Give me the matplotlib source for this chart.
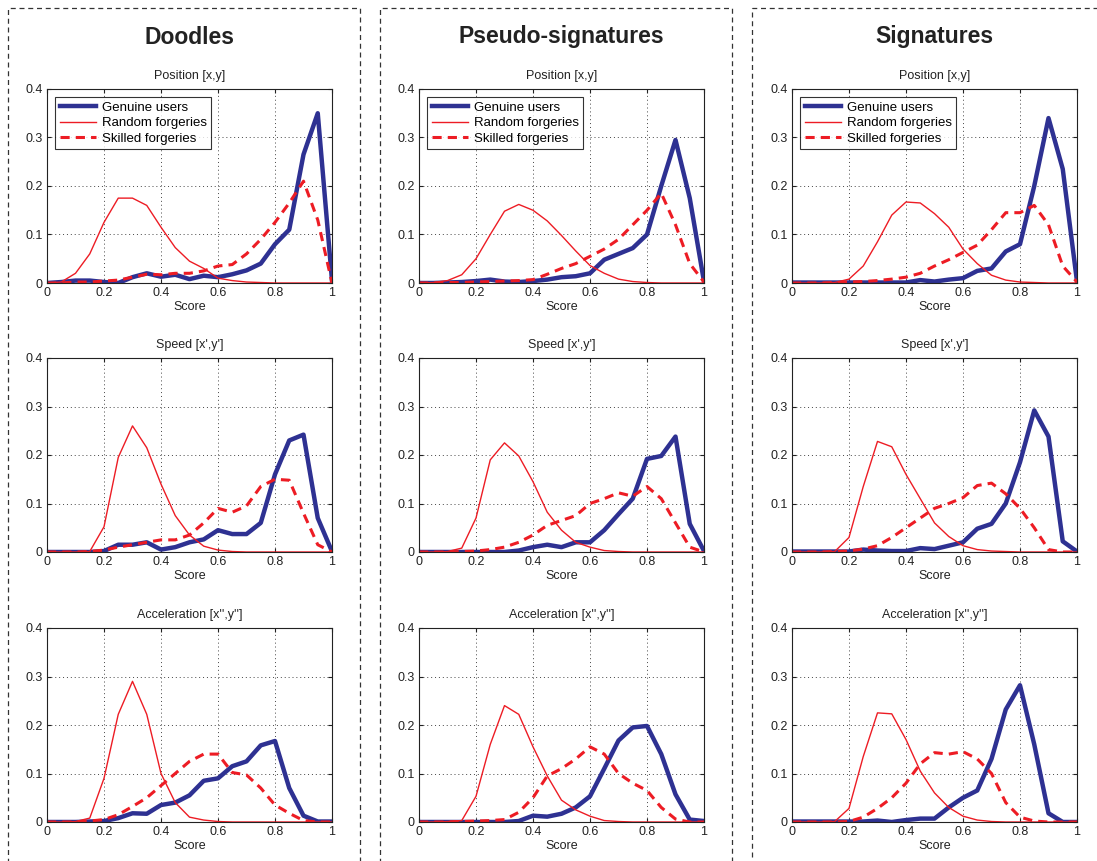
import matplotlib.pyplot as plt
from matplotlib.patches import Rectangle
import numpy as np

score = np.linspace(0, 1, 21)

columns = ["Doodles", "Pseudo-signatures", "Signatures"]
features = ["Position [x,y]", "Speed [x',y']", "Acceleration [x'',y'']"]
labels = ["Genuine users", "Random forgeries", "Skilled forgeries"]

# doodles
doodles_pos_gen = [0, 0.002, 0.005, 0.005, 0.002, 0.0, 0.012, 0.02, 0.013, 0.017, 0.008,
                   0.015, 0.012, 0.018, 0.026, 0.04, 0.08, 0.11, 0.265, 0.35, 0.005]
doodles_pos_rnd = [0, 0.002, 0.02, 0.06, 0.125, 0.175, 0.175, 0.16, 0.115, 0.073, 0.045,
                   0.03, 0.01, 0.005, 0.002, 0.001, 0, 0, 0, 0, 0]
doodles_pos_skl = [0, 0, 0.002, 0.002, 0.004, 0.006, 0.012, 0.018, 0.017, 0.02, 0.02,
                   0.025, 0.035, 0.038, 0.06, 0.09, 0.125, 0.165, 0.21, 0.13, 0.0]
doodles_spd_gen = [0, 0, 0, 0, 0.002, 0.015, 0.015, 0.02, 0.005, 0.01, 0.02,
                   0.026, 0.045, 0.037, 0.037, 0.06, 0.16, 0.23, 0.242, 0.07, 0.001]
doodles_spd_rnd = [0, 0, 0, 0.001, 0.052, 0.195, 0.26, 0.215, 0.14, 0.075, 0.035,
                   0.012, 0.004, 0.001, 0, 0, 0, 0, 0, 0, 0]
doodles_spd_skl = [0, 0, 0, 0.001, 0.004, 0.01, 0.015, 0.02, 0.025, 0.025, 0.035,
                   0.06, 0.09, 0.082, 0.095, 0.135, 0.15, 0.148, 0.08, 0.015, 0]
doodles_acc_gen = [0, 0, 0, 0.001, 0.002, 0.008, 0.018, 0.017, 0.035, 0.04, 0.055,
                   0.085, 0.09, 0.115, 0.125, 0.158, 0.167, 0.07, 0.013, 0.001, 0.001]
doodles_acc_rnd = [0, 0, 0.001, 0.008, 0.09, 0.222, 0.29, 0.222, 0.1, 0.04, 0.01,
                   0.004, 0.001, 0, 0, 0, 0, 0, 0, 0, 0]
doodles_acc_skl = [0, 0, 0, 0.002, 0.005, 0.015, 0.032, 0.05, 0.075, 0.1, 0.125,
                   0.14, 0.14, 0.102, 0.097, 0.07, 0.035, 0.018, 0.003, 0, 0]

# pseudo-signatures
pseudo_pos_gen = [0, 0, 0.001, 0.002, 0.004, 0.007, 0.003, 0.002, 0.004, 0.007, 0.012,
                  0.014, 0.02, 0.048, 0.06, 0.072, 0.1, 0.2, 0.295, 0.175, 0.003]
pseudo_pos_rnd = [0, 0.001, 0.005, 0.017, 0.05, 0.1, 0.148, 0.162, 0.15, 0.128, 0.098,
                  0.066, 0.036, 0.02, 0.008, 0.003, 0.001, 0, 0, 0, 0]
pseudo_pos_skl = [0, 0, 0.001, 0.001, 0.002, 0.003, 0.004, 0.005, 0.007, 0.018, 0.03,
                  0.04, 0.055, 0.07, 0.09, 0.12, 0.15, 0.185, 0.12, 0.04, 0.002]
pseudo_spd_gen = [0, 0, 0, 0, 0, 0, 0, 0.003, 0.01, 0.015, 0.01,
                  0.02, 0.02, 0.045, 0.078, 0.11, 0.192, 0.198, 0.238, 0.058, 0.002]
pseudo_spd_rnd = [0, 0, 0.001, 0.008, 0.07, 0.19, 0.225, 0.198, 0.145, 0.082, 0.045,
                  0.02, 0.01, 0.003, 0.001, 0, 0, 0, 0, 0, 0]
pseudo_spd_skl = [0, 0, 0, 0.001, 0.002, 0.005, 0.01, 0.02, 0.035, 0.055, 0.065,
                  0.075, 0.1, 0.11, 0.122, 0.115, 0.135, 0.11, 0.06, 0.01, 0]
pseudo_acc_gen = [0, 0, 0, 0, 0, 0, 0, 0.002, 0.013, 0.011, 0.017,
                  0.03, 0.053, 0.11, 0.168, 0.195, 0.198, 0.14, 0.057, 0.005, 0.002]
pseudo_acc_rnd = [0, 0, 0.001, 0.003, 0.053, 0.16, 0.24, 0.222, 0.155, 0.095, 0.045,
                  0.025, 0.012, 0.003, 0.001, 0, 0, 0, 0, 0, 0]
pseudo_acc_skl = [0, 0, 0, 0.001, 0.002, 0.003, 0.005, 0.02, 0.05, 0.095, 0.11,
                  0.13, 0.155, 0.14, 0.1, 0.08, 0.065, 0.03, 0.006, 0, 0]

# signatures
sig_pos_gen = [0.001, 0.001, 0.001, 0.001, 0.001, 0.001, 0.001, 0.001, 0.001, 0.006, 0.003,
               0.007, 0.01, 0.025, 0.03, 0.065, 0.08, 0.2, 0.34, 0.235, 0.003]
sig_pos_rnd = [0, 0, 0, 0.001, 0.008, 0.035, 0.085, 0.14, 0.167, 0.165, 0.143,
               0.115, 0.07, 0.04, 0.016, 0.006, 0.002, 0.001, 0, 0, 0]
sig_pos_skl = [0, 0, 0, 0.001, 0.002, 0.003, 0.005, 0.008, 0.012, 0.02, 0.035,
               0.048, 0.063, 0.078, 0.11, 0.145, 0.145, 0.16, 0.12, 0.035, 0.002]
sig_spd_gen = [0.001, 0.001, 0.001, 0.001, 0.001, 0.005, 0.003, 0.002, 0.002, 0.008, 0.006,
               0.013, 0.02, 0.048, 0.058, 0.1, 0.185, 0.292, 0.238, 0.022, 0.001]
sig_spd_rnd = [0, 0, 0, 0.001, 0.03, 0.135, 0.228, 0.217, 0.16, 0.11, 0.06,
               0.032, 0.013, 0.005, 0.002, 0.001, 0, 0, 0, 0, 0]
sig_spd_skl = [0, 0, 0, 0.001, 0.002, 0.006, 0.013, 0.03, 0.05, 0.07, 0.09,
               0.1, 0.112, 0.137, 0.142, 0.12, 0.09, 0.05, 0.005, 0, 0]
sig_acc_gen = [0.001, 0.001, 0.001, 0.001, 0.001, 0.001, 0.003, 0.0, 0.004, 0.007, 0.007,
               0.03, 0.05, 0.065, 0.13, 0.232, 0.282, 0.16, 0.018, 0, 0]
sig_acc_rnd = [0, 0, 0, 0.001, 0.028, 0.135, 0.225, 0.223, 0.17, 0.105, 0.06,
               0.03, 0.012, 0.004, 0.001, 0, 0, 0, 0, 0, 0]
sig_acc_skl = [0, 0, 0, 0, 0.001, 0.01, 0.028, 0.05, 0.08, 0.12, 0.143,
               0.14, 0.145, 0.13, 0.1, 0.04, 0.01, 0.002, 0, 0, 0]

data = [
    [(doodles_pos_gen, doodles_pos_rnd, doodles_pos_skl),
     (pseudo_pos_gen, pseudo_pos_rnd, pseudo_pos_skl),
     (sig_pos_gen, sig_pos_rnd, sig_pos_skl)],
    [(doodles_spd_gen, doodles_spd_rnd, doodles_spd_skl),
     (pseudo_spd_gen, pseudo_spd_rnd, pseudo_spd_skl),
     (sig_spd_gen, sig_spd_rnd, sig_spd_skl)],
    [(doodles_acc_gen, doodles_acc_rnd, doodles_acc_skl),
     (pseudo_acc_gen, pseudo_acc_rnd, pseudo_acc_skl),
     (sig_acc_gen, sig_acc_rnd, sig_acc_skl)],
]

blue = '#2e3192'
red = '#ed1c24'

plt.rcParams['font.family'] = ['Liberation Sans', 'DejaVu Sans']

W, H = 1097, 861
fig = plt.figure(figsize=(W / 100, H / 100), dpi=100)

lefts = [47, 419, 792]
bottoms = [283, 552, 822]
aw, ah = 285, 194

# dashed column frames
for x0, x1 in [(8, 360), (380, 732), (752, 1110)]:
    fig.add_artist(Rectangle((x0 / W, -0.1), (x1 - x0) / W, 1.1 - 8 / H,
                             transform=fig.transFigure, fill=False,
                             ls=(0, (4, 3)), lw=0.9, ec='#333333', clip_on=False))

for c, name in enumerate(columns):
    fig.text((lefts[c] + aw / 2) / W, 1 - 37 / H, name, ha='center', va='center',
             fontsize=16.5, fontweight='bold', color='#222222')

for r in range(3):
    for c in range(3):
        ax = fig.add_axes([lefts[c] / W, 1 - bottoms[r] / H, aw / W, ah / H])
        gen, rnd, skl = data[r][c]
        ax.plot(score, gen, color=blue, lw=3.2, label=labels[0])
        ax.plot(score, rnd, color=red, lw=1.0, label=labels[1])
        ax.plot(score, skl, color=red, lw=2.2, ls=(0, (3, 2)), label=labels[2])
        ax.set_xlim(0, 1)
        ax.set_ylim(0, 0.4)
        ax.set_xticks([0, 0.2, 0.4, 0.6, 0.8, 1])
        ax.set_xticklabels(['0', '0.2', '0.4', '0.6', '0.8', '1'])
        ax.set_yticks([0, 0.1, 0.2, 0.3, 0.4])
        ax.set_yticklabels(['0', '0.1', '0.2', '0.3', '0.4'])
        ax.tick_params(direction='in', labelsize=9, length=3, top=True, right=True,
                       pad=3, colors='#222222')
        ax.grid(True, ls=(0, (1, 3)), color='#444444', lw=0.7)
        for s in ax.spines.values():
            s.set_linewidth(0.8)
            s.set_color('#222222')
        ax.set_title(features[r], fontsize=9, pad=7, color='#222222')
        ax.set_xlabel('Score', fontsize=9, labelpad=1, color='#222222')
        if r == 0:
            leg = ax.legend(loc='upper left', fontsize=9.5, frameon=True, fancybox=False,
                            edgecolor='black', borderpad=0.35, labelspacing=0.25,
                            handlelength=2.8, handletextpad=0.4,
                            borderaxespad=0.6)
            leg.get_frame().set_linewidth(0.8)

fig.savefig('out.png', dpi=100)
